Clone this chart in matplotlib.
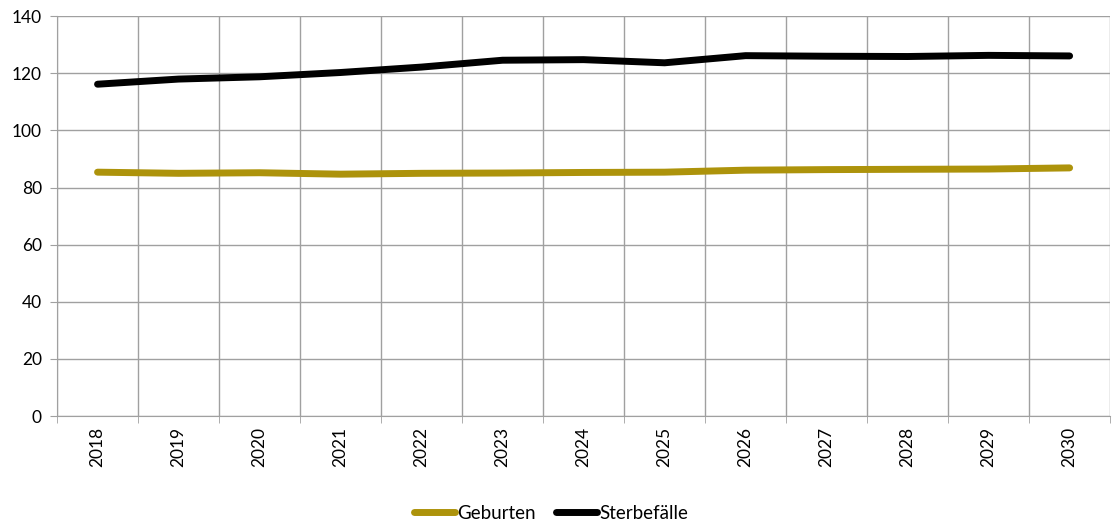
import numpy as np
import matplotlib
matplotlib.use("Agg")
import matplotlib.pyplot as plt

# values
years = ["2018", "2019", "2020", "2021", "2022", "2023", "2024",
         "2025", "2026", "2027", "2028", "2029", "2030"]
geburten = [85.4, 85.0, 85.2, 84.7, 85.0, 85.1, 85.3, 85.4, 86.1, 86.3, 86.4, 86.5, 86.9]
sterbefaelle = [116.2, 118.0, 118.8, 120.3, 122.2, 124.6, 124.8, 123.7, 126.2, 126.0, 125.9, 126.3, 126.1]

plt.rcParams['font.family'] = ['Lato', 'DejaVu Sans']

fig = plt.figure(figsize=(11.12, 5.24), dpi=100)
ax = fig.add_axes([0.0513, 0.206, 0.947, 0.763])

x = np.arange(len(years))
ax.plot(x, geburten, color="#ad930b", lw=5, solid_capstyle="round", label="Geburten")
ax.plot(x, sterbefaelle, color="black", lw=5, solid_capstyle="round", label="Sterbefälle")

ax.set_xlim(-0.5, len(years) - 0.5)
ax.set_ylim(0, 140)
ax.set_yticks(range(0, 141, 20))
ax.set_xticks(x)
ax.set_xticklabels(years, rotation=90)
ax.set_xticks(np.arange(-0.5, len(years)), minor=True)

grid_col = "#a0a0a0"
ax.grid(axis="y", color=grid_col, lw=1)
ax.grid(axis="x", which="minor", color=grid_col, lw=1)
ax.set_axisbelow(True)
for s in ["top", "right"]:
    ax.spines[s].set_visible(False)
ax.spines["left"].set_color(grid_col)
ax.spines["bottom"].set_color(grid_col)
ax.tick_params(axis="y", length=5, color=grid_col, labelsize=12.5, pad=6)
ax.tick_params(axis="x", which="major", length=0, labelsize=12.5, pad=8)
ax.tick_params(axis="x", which="minor", length=5, color=grid_col)

ax.legend(loc="center", bbox_to_anchor=(0.469, -0.2425), ncol=2, frameon=False,
          fontsize=13.5, handlelength=2.2, handletextpad=0.1, columnspacing=1.1,
          borderpad=0, borderaxespad=0)

fig.savefig("out.png", dpi=100)
